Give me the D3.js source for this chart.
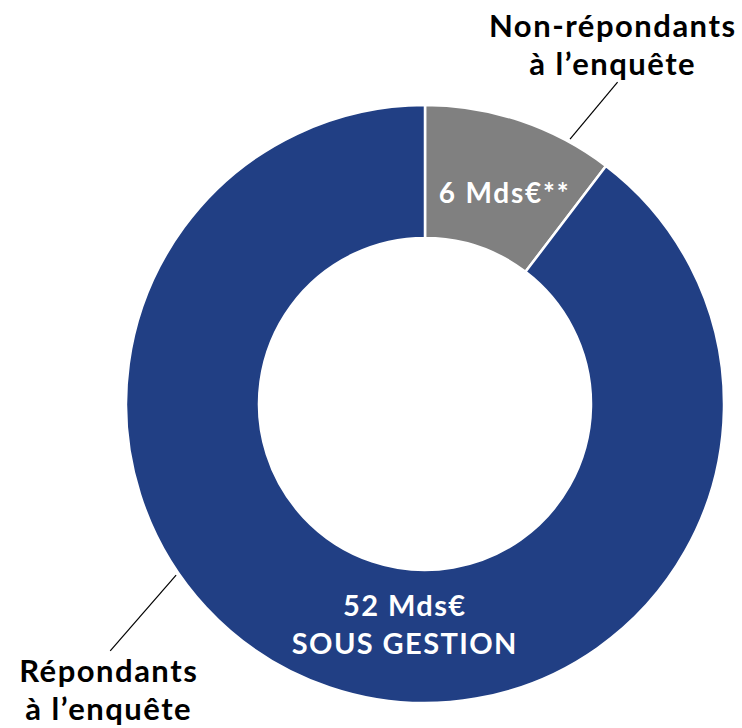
<!DOCTYPE html>
<html>
<head>
<meta charset="utf-8">
<script src="https://cdn.jsdelivr.net/npm/d3@7"></script>
<style>
  html, body { margin: 0; padding: 0; background: #fff; }
  svg { display: block; font-family: Lato, "Open Sans", sans-serif; font-weight: 700; }
</style>
</head>
<body>
<svg id="chart"></svg>
<script>
// data
const segments   = ['Non-répondants', 'Répondants'];
const values     = [6, 52];
const sliceText  = [['6 Mds€**'], ['52 Mds€', 'SOUS GESTION']];
const outerLabel = [['Non-répondants', 'à l’enquête'], ['Répondants', 'à l’enquête']];
const colors     = ['#808080', '#213F84'];

const width = 742, height = 728;
const cx = 425, cy = 404;
const rOuter = 299, rInner = 166;

const svg = d3.select('#chart')
  .attr('width', width)
  .attr('height', height);

const g = svg.append('g').attr('transform', `translate(${cx},${cy})`);

const pie = d3.pie().sort(null).value(d => d)(values);
const arc = d3.arc().innerRadius(rInner).outerRadius(rOuter);

g.selectAll('path.slice')
  .data(pie)
  .join('path')
  .attr('class', 'slice')
  .attr('d', arc)
  .attr('fill', (d, i) => colors[i])
  .attr('stroke', '#fff')
  .attr('stroke-width', 2.5);

// polar helper (angle in radians, 0 = top, clockwise)
const polar = (a, r) => [Math.sin(a) * r, -Math.cos(a) * r];

// in-slice labels
const inPos = [
  { a: d => d.startAngle + (d.endAngle - d.startAngle) * 0.55, r: 225, lh: 38, fs: 28, ls: 1.8 },
  { a: d => Math.PI * 1.03, r: 222, lh: 38, fs: 29, ls: 1.4 }
];

pie.forEach((d, i) => {
  const p = inPos[i];
  const [x, y] = polar(p.a(d), p.r);
  const lines = sliceText[i];
  const t = g.append('text')
    .attr('text-anchor', 'middle')
    .attr('fill', '#fff')
    .attr('font-size', p.fs)
    .attr('letter-spacing', p.ls);
  lines.forEach((s, k) => {
    t.append('tspan')
      .attr('x', x + p.ls / 2)
      .attr('y', y + (k - (lines.length - 1) / 2) * p.lh + p.fs * 0.36)
      .text(s);
  });
});

// leader lines + outer labels
const leaders = [
  { a0: 28.7, r0: 302, a1: 30.9, r1: 375, lx: 612, ly: 37 },
  { a0: 235.5, r0: 302, a1: 231.9, r1: 400, lx: 108, ly: 682 }
];
const rad = Math.PI / 180;

leaders.forEach((l, i) => {
  const p0 = polar(l.a0 * rad, l.r0), p1 = polar(l.a1 * rad, l.r1);
  g.append('line')
    .attr('x1', p0[0]).attr('y1', p0[1])
    .attr('x2', p1[0]).attr('y2', p1[1])
    .attr('stroke', '#000')
    .attr('stroke-width', 1.2);

  const t = svg.append('text')
    .attr('text-anchor', 'middle')
    .attr('fill', '#000')
    .attr('font-size', 31)
    .attr('letter-spacing', 1.5);
  outerLabel[i].forEach((s, k) => {
    t.append('tspan')
      .attr('x', l.lx + 0.75)
      .attr('y', l.ly + k * 38)
      .text(s);
  });
});
</script>
</body>
</html>
